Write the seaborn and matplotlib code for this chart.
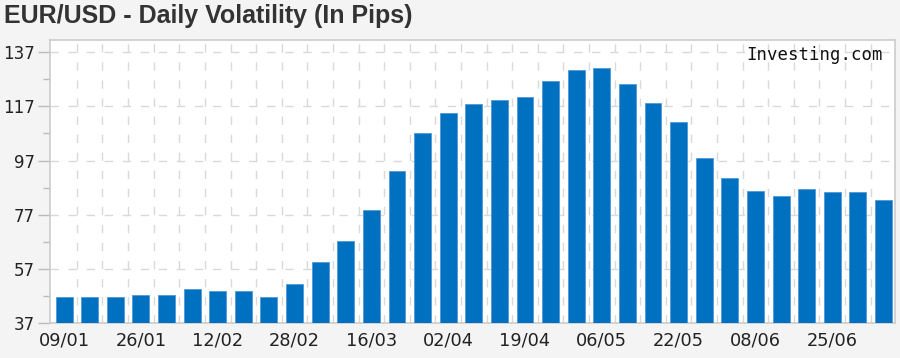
import matplotlib
matplotlib.use('Agg')
import matplotlib.pyplot as plt
from matplotlib.ticker import MultipleLocator
import numpy as np
import pandas as pd
import seaborn as sns

# EUR/USD daily volatility in pips, one bar per period (33 periods)
volatility = [46.7, 46.7, 46.7, 47.3, 47.3, 49.4, 48.8, 48.8, 46.7, 51.4,
              59.4, 67.3, 78.7, 93.3, 107.2, 114.4, 117.7, 119.3, 120.5, 126.4,
              130.4, 131.0, 125.1, 118.4, 111.1, 97.8, 90.6, 85.8, 84.0, 86.4,
              85.2, 85.2, 82.4]
# date labels shown under every third bar
tick_labels = ['09/01', '26/01', '12/02', '28/02', '16/03', '02/04',
               '19/04', '06/05', '22/05', '08/06', '25/06']
y_ticks = [37, 57, 77, 97, 117, 137]

df = pd.DataFrame({'period': np.arange(len(volatility)), 'pips': volatility})

sns.set_style('white')
plt.rcParams['font.family'] = ['DejaVu Sans']

fig = plt.figure(figsize=(9, 3.58), dpi=100, facecolor='#f4f4f4')
ax = fig.add_axes([50 / 900, 35 / 358, 845 / 900, 283 / 358])
ax.set_facecolor('white')

sns.barplot(data=df, x='period', y='pips', color='#0070c0', saturation=1,
            width=0.66, edgecolor='#4f9ad6', linewidth=0.6, ax=ax, zorder=3)

ax.set_xlim(-0.55, len(volatility) - 0.55)
ax.set_ylim(37, 141.5)

# dashed grid: horizontal at major ticks, vertical between bars
ax.set_yticks(y_ticks)
ax.yaxis.set_minor_locator(MultipleLocator(10, offset=7))
for yv in y_ticks[1:]:
    ax.axhline(yv, color='#d9d9d9', lw=1, ls=(0, (6, 7)), zorder=1)
for xv in np.arange(len(volatility) - 1) + 0.5:
    ax.axvline(xv, color='#d9d9d9', lw=1, ls=(0, (6, 7)), zorder=1)

ax.set_xticks(np.arange(0, len(volatility), 3))
ax.set_xticklabels(tick_labels)
ax.tick_params(axis='x', length=0, pad=6, labelsize=12.8, labelcolor='#222222')
ax.tick_params(axis='y', which='major', left=True, length=9, width=1,
               color='#bbbbbb', labelsize=12, labelcolor='#222222', pad=2)
ax.tick_params(axis='y', which='minor', left=True, length=5, width=1,
               color='#bbbbbb')

for side in ['top', 'right', 'bottom', 'left']:
    ax.spines[side].set_visible(True)
    ax.spines[side].set_color('#cccccc')
    ax.spines[side].set_linewidth(1.2)

ax.set_xlabel('')
ax.set_ylabel('')

ax.text(0.985, 0.947, 'Investing.com', transform=ax.transAxes, ha='right',
        va='center', fontsize=12.5, family='DejaVu Sans Mono', color='#111111',
        zorder=5)

fig.text(4 / 900, 1 - 16 / 358, 'EUR/USD - Daily Volatility (In Pips)',
         ha='left', va='center', fontsize=18, fontweight='bold',
         family='Liberation Sans', color='#333333')

fig.savefig('out.png', dpi=100, facecolor=fig.get_facecolor())
